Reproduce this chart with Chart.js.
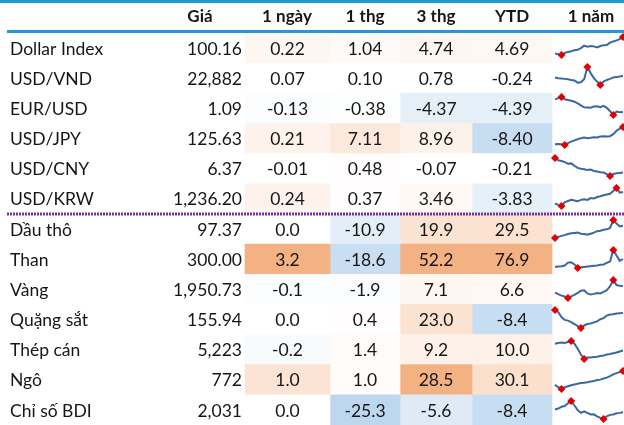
<!DOCTYPE html>
<html>
<head>
<meta charset="utf-8">
<script src="https://cdn.jsdelivr.net/npm/chart.js@4.4.1/dist/chart.umd.min.js"></script>
<style>
  html, body { margin: 0; padding: 0; background: #fff; }
  #wrap { position: relative; width: 624px; height: 425px; overflow: hidden; }
  #table { position: absolute; left: 0; top: 0; }
  .spark { position: absolute; left: 549px; }
</style>
</head>
<body>
<div id="wrap">
  <canvas id="table" width="624" height="425"></canvas>
</div>
<script>
// ---- data ----
var rowNames = ['Dollar Index', 'USD/VND', 'EUR/USD', 'USD/JPY', 'USD/CNY', 'USD/KRW',
                'Dầu thô', 'Than', 'Vàng', 'Quặng sắt', 'Thép cán', 'Ngô', 'Chỉ số BDI'];
var headers = ['Giá', '1 ngày', '1 thg', '3 thg', 'YTD', '1 năm'];
var prices   = [100.16, 22882, 1.09, 125.63, 6.37, 1236.20, 97.37, 300.00, 1950.73, 155.94, 5223, 772, 2031];
var priceDp  = [2, 0, 2, 2, 2, 2, 2, 2, 2, 2, 0, 0, 0];
var chg1d    = [0.22, 0.07, -0.13, 0.21, -0.01, 0.24, 0.0, 3.2, -0.1, 0.0, -0.2, 1.0, 0.0];
var chg1m    = [1.04, 0.10, -0.38, 7.11, 0.48, 0.37, -10.9, -18.6, -1.9, 0.4, 1.4, 1.0, -25.3];
var chg3m    = [4.74, 0.78, -4.37, 8.96, -0.07, 3.46, 19.9, 52.2, 7.1, 23.0, 9.2, 28.5, -5.6];
var chgYtd   = [4.69, -0.24, -4.39, -8.40, -0.21, -3.83, 29.5, 76.9, 6.6, -8.4, 10.0, 30.1, -8.4];
var chgDp    = [2, 2, 2, 2, 2, 2, 1, 1, 1, 1, 1, 1, 1];

// 1-year sparklines (relative level, 0 = low of the year, 100 = high)
var sparkDollar = [8, 4, 0, 12, 17, 21, 27, 29, 38, 52, 46, 50, 48, 42, 50, 54, 56, 69, 75, 81, 88, 100];
var sparkVnd    = [42, 38, 36, 34, 32, 28, 25, 13, 15, 32, 100, 66, 38, 19, 0, 19, 28, 34, 42, 45, 47, 51];
var sparkEur    = [87, 94, 100, 87, 83, 79, 74, 64, 53, 43, 42, 40, 47, 49, 43, 51, 40, 21, 0, 19, 15, 17];
var sparkJpy    = [4, 6, 4, 0, 11, 19, 26, 32, 38, 42, 38, 40, 43, 42, 47, 49, 47, 49, 60, 79, 91, 100];
var sparkCny    = [100, 87, 83, 77, 68, 70, 57, 45, 40, 38, 34, 36, 28, 25, 21, 19, 11, 0, 11, 15, 17, 19];
var sparkKrw    = [14, 6, 0, 20, 28, 34, 30, 26, 34, 38, 34, 44, 42, 50, 54, 60, 64, 68, 84, 100, 74, 78];
var sparkOil    = [0, 6, 12, 16, 22, 26, 28, 30, 24, 22, 18, 24, 30, 38, 40, 46, 48, 56, 100, 80, 64, 68];
var sparkCoal   = [6, 8, 10, 14, 30, 32, 20, 0, 4, 6, 8, 10, 12, 14, 18, 20, 28, 36, 100, 70, 40, 50];
var sparkGold   = [30, 21, 13, 8, 0, 9, 17, 28, 40, 43, 25, 19, 23, 28, 25, 34, 43, 66, 100, 72, 68, 66];
var sparkOre    = [100, 88, 61, 45, 41, 33, 22, 10, 0, 14, 22, 25, 31, 37, 49, 55, 69, 75, 76, 80, 82, 84];
var sparkSteel  = [85, 89, 91, 89, 94, 100, 85, 57, 25, 0, 8, 9, 11, 13, 17, 19, 25, 28, 32, 36, 42, 47];
var sparkCorn   = [23, 10, 0, 10, 15, 21, 25, 29, 33, 35, 38, 42, 44, 50, 52, 58, 63, 71, 81, 88, 94, 100];
var sparkBdi    = [53, 58, 68, 72, 87, 100, 75, 49, 34, 42, 34, 25, 26, 15, 6, 0, 15, 23, 25, 32, 34, 38];
var sparkSeries = [sparkDollar, sparkVnd, sparkEur, sparkJpy, sparkCny, sparkKrw,
                   sparkOil, sparkCoal, sparkGold, sparkOre, sparkSteel, sparkCorn, sparkBdi];

// ---- style / layout ----
// heat shading of each cell, + toward orange, - toward blue
var shade1d  = [0.12, 0, -0.08, 0.15, 0, 0.15, 0, 1, -0.08, 0, -0.1, 0.35, 0];
var shade1m  = [0.06, 0, -0.03, 0.28, 0.02, 0.02, -0.42, -0.82, -0.08, 0.02, 0.05, 0.04, -1];
var shade3m  = [0.12, 0, -0.4, 0.17, 0, 0.1, 0.36, 1, 0.12, 0.37, 0.18, 1, -0.5];
var shadeYtd = [0.09, 0, -0.4, -0.85, 0, -0.38, 0.37, 1, 0.1, -0.85, 0.18, 0.4, -0.85];

var colEdges = [245, 330, 400, 472, 552];
var headerX = [200, 287, 365, 436, 512, 591];
var textColor = '#161616';
var FONT = 'Lato, "Noto Sans", sans-serif';

function shadeColor(t) {
  var c = t >= 0 ? [244, 177, 131] : [189, 215, 238];
  var a = Math.abs(t);
  return 'rgb(' + c.map(function (v) { return Math.round(255 + (v - 255) * a); }).join(',') + ')';
}
function fmt(v, dp) {
  return v.toLocaleString('en-US', { minimumFractionDigits: dp, maximumFractionDigits: dp });
}

var changeCols = [chg1d, chg1m, chg3m, chgYtd];
var shadeCols = [shade1d, shade1m, shade3m, shadeYtd];

var datasets = changeCols.map(function (col, j) {
  return {
    data: col.map(function () { return [colEdges[j], colEdges[j + 1]]; }),
    backgroundColor: shadeCols[j].map(shadeColor),
    borderWidth: 0,
    barPercentage: 1,
    categoryPercentage: 1,
    grouped: false
  };
});

var tableText = {
  id: 'tableText',
  afterDatasetsDraw: function (chart) {
    var ctx = chart.ctx, xs = chart.scales.x, ys = chart.scales.y;
    ctx.save();
    ctx.fillStyle = '#1E9AD6';
    ctx.fillRect(0, 0, 624, 3);
    ctx.fillRect(7, 30, 617, 3);

    ctx.fillStyle = textColor;
    ctx.textBaseline = 'middle';
    ctx.textAlign = 'center';
    ctx.font = 'bold 17px ' + FONT;
    headers.forEach(function (h, j) { ctx.fillText(h, xs.getPixelForValue(headerX[j]), 17); });

    ctx.font = '17.5px ' + FONT;
    rowNames.forEach(function (name, i) {
      var y = ys.getPixelForValue(i) + 1;
      ctx.textAlign = 'left';
      ctx.fillText(name, xs.getPixelForValue(10), y);
      ctx.textAlign = 'right';
      ctx.fillText(fmt(prices[i], priceDp[i]), xs.getPixelForValue(242), y);
      ctx.textAlign = 'center';
      changeCols.forEach(function (col, j) {
        var cx = xs.getPixelForValue((colEdges[j] + colEdges[j + 1]) / 2);
        ctx.fillText(fmt(col[i], chgDp[i]), cx, y);
      });
    });

    var yDiv = (ys.getPixelForValue(5) + ys.getPixelForValue(6)) / 2;
    ctx.strokeStyle = '#7434A8';
    ctx.lineWidth = 3;
    ctx.setLineDash([2, 1]);
    ctx.beginPath();
    ctx.moveTo(7, yDiv);
    ctx.lineTo(624, yDiv);
    ctx.stroke();
    ctx.restore();
  }
};

var table = new Chart(document.getElementById('table'), {
  type: 'bar',
  data: { labels: rowNames, datasets: datasets },
  options: {
    indexAxis: 'y',
    responsive: false,
    animation: false,
    layout: { padding: { top: 33, left: 0, right: 0, bottom: 0 } },
    scales: {
      x: { type: 'linear', min: 0, max: 624, display: false },
      y: { type: 'category', display: false, offset: true }
    },
    plugins: { legend: { display: false }, tooltip: { enabled: false } }
  },
  plugins: [tableText]
});

// sparklines, one small chart per row
var wrap = document.getElementById('wrap');
sparkSeries.forEach(function (series, i) {
  var band = table.scales.y.getPixelForValue(1) - table.scales.y.getPixelForValue(0);
  var top = table.scales.y.getPixelForValue(i) - band / 2;
  var cv = document.createElement('canvas');
  cv.className = 'spark';
  cv.width = 90; cv.height = 30;
  cv.style.top = Math.round(top) + 'px';
  wrap.appendChild(cv);
  var lo = series.indexOf(Math.min.apply(null, series));
  var hi = series.indexOf(Math.max.apply(null, series));
  var lower = i >= 6;
  new Chart(cv, {
    type: 'line',
    data: {
      labels: series.map(function (v, k) { return k; }),
      datasets: [{
        data: series,
        clip: false,
        borderColor: '#3A67A3',
        borderWidth: 2,
        tension: 0,
        pointStyle: 'rectRot',
        pointRadius: series.map(function (v, k) { return (k === lo || k === hi) ? 4 : 0; }),
        pointBackgroundColor: '#E00000',
        pointBorderColor: '#E00000',
        pointBorderWidth: 0
      }]
    },
    options: {
      responsive: false,
      animation: false,
      layout: { padding: { left: 6, right: 16, top: lower ? 6 : 4, bottom: lower ? 6 : 8 } },
      scales: {
        x: { type: 'category', display: false, offset: false },
        y: { type: 'linear', display: false, bounds: 'data' }
      },
      plugins: { legend: { display: false }, tooltip: { enabled: false } }
    }
  });
});
</script>
</body>
</html>
